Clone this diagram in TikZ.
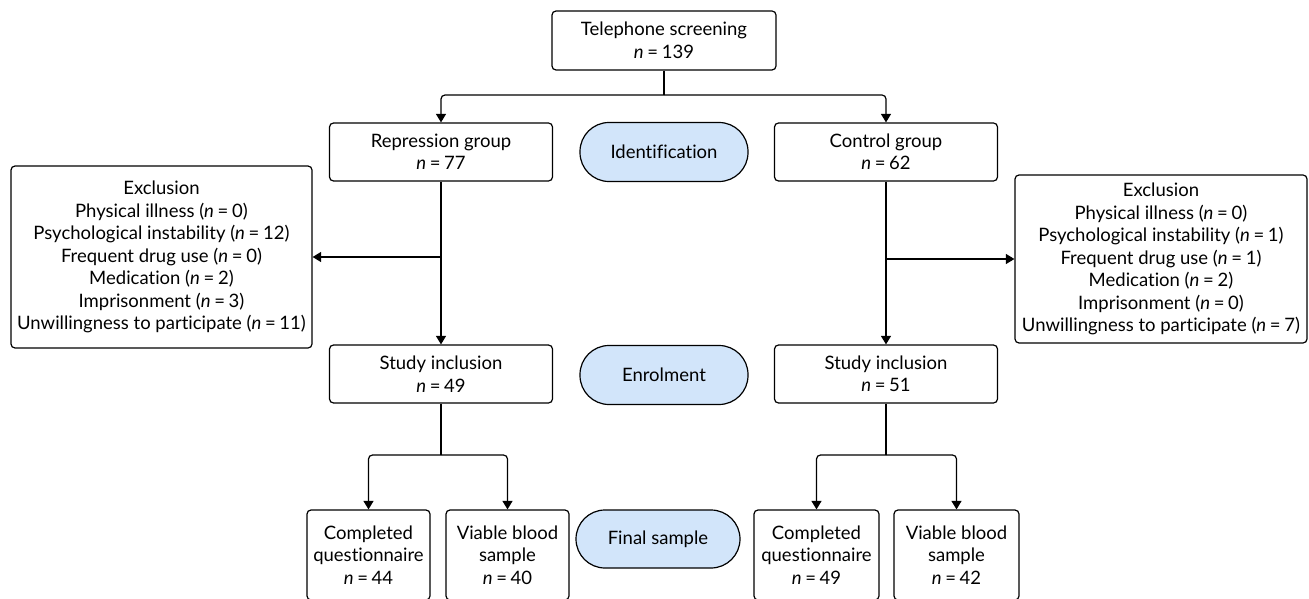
\documentclass[tikz,border=0pt]{standalone}
\usepackage{fontspec}
\setmainfont{Lato}[Ligatures=NoCommon]
\usetikzlibrary{arrows.meta}
\definecolor{pillblue}{HTML}{D2E5FA}
\tikzset{
  box/.style={draw, line width=1.2pt, rounded corners=4pt, align=center, inner sep=0pt,
    font=\fontsize{18.5}{22.5}\selectfont},
  pill/.style={draw, line width=1.2pt, fill=pillblue, rounded corners=29pt, align=center, inner sep=0pt,
    minimum width=168pt, minimum height=59pt, font=\fontsize{18.5}{22.5}\selectfont},
  conn/.style={line width=1.2pt, rounded corners=4pt},
  arr/.style={conn, -{Triangle[length=8.5pt,width=10pt]}}
}
\newcommand{\nn}{\textit{n}\hspace{0.2em}=\hspace{0.2em}}
\begin{document}
\begin{tikzpicture}[x=1pt,y=-1pt]
\useasboundingbox (0,0) rectangle (1309,599);
% top
\node[box, minimum width=224pt, minimum height=59pt] (tel) at (664,40.5) {Telephone screening\\\nn139};
% groups
\node[box, minimum width=223pt, minimum height=58pt] (rep) at (441,152) {Repression group\\\nn77};
\node[box, minimum width=223pt, minimum height=58pt] (ctl) at (886,152) {Control group\\\nn62};
\node[pill] (idn) at (664,152) {Identification};
% exclusions
\node[box, minimum width=301pt, minimum height=182pt] (exl) at (161.5,257) {Exclusion\\Physical illness (\nn0)\\Psychological instability (\nn12)\\Frequent drug use (\nn0)\\Medication (\nn2)\\Imprisonment (\nn3)\\Unwillingness to participate (\nn11)};
\node[box, minimum width=292pt, minimum height=168pt] (exr) at (1161,259) {Exclusion\\Physical illness (\nn0)\\Psychological instability (\nn1)\\Frequent drug use (\nn1)\\Medication (\nn2)\\Imprisonment (\nn0)\\Unwillingness to participate (\nn7)};
% inclusion
\node[box, minimum width=223pt, minimum height=58pt] (inl) at (441,374) {Study inclusion\\\nn49};
\node[box, minimum width=223pt, minimum height=58pt] (inr) at (886,374) {Study inclusion\\\nn51};
\node[pill] (enr) at (664,375) {Enrolment};
% final
\node[box, minimum width=123pt, minimum height=90pt] (cql) at (368.5,555) {Completed\\questionnaire\\\nn44};
\node[box, minimum width=123pt, minimum height=90pt] (vbl) at (507.5,555) {Viable blood\\sample\\\nn40};
\node[pill, minimum width=164pt, minimum height=58pt] (fin) at (658,539) {Final sample};
\node[box, minimum width=125pt, minimum height=90pt] (cqr) at (816.5,555) {Completed\\questionnaire\\\nn49};
\node[box, minimum width=125pt, minimum height=90pt] (vbr) at (956.5,555) {Viable blood\\sample\\\nn42};
% connectors
\coordinate (split) at (664,95);
\draw[conn] (tel.south) -- (split);
\draw[arr] (split) -| (rep.north);
\draw[arr] (split) -| (ctl.north);
\draw[arr] (rep.south) -- (inl.north);
\draw[arr] (ctl.south) -- (inr.north);
\draw[arr] (rep.south |- exl.east) -- (exl.east);
\draw[arr] (ctl.south |- exr.west) -- (exr.west);
\coordinate (sl) at (441,455);
\coordinate (sr) at (886,455);
\draw[conn] (inl.south) -- (sl);
\draw[arr] (sl) -| (cql.north);
\draw[arr] (sl) -| (vbl.north);
\draw[conn] (inr.south) -- (sr);
\draw[arr] (sr) -| (cqr.north);
\draw[arr] (sr) -| (vbr.north);
\end{tikzpicture}
\end{document}
